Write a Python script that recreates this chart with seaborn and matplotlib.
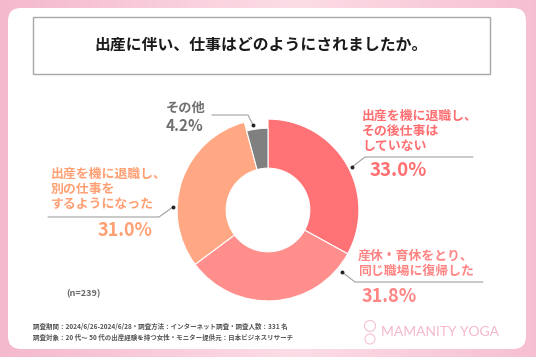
import numpy as np
import matplotlib
matplotlib.use("Agg")
import matplotlib.pyplot as plt
import seaborn as sns
from matplotlib.patches import FancyBboxPatch, Rectangle

sns.set_theme(style="white")
plt.rcParams['font.family'] = ['Noto Sans CJK JP', 'DejaVu Sans']

# ---- data ----
title = "出産に伴い、仕事はどのようにされましたか。"
categories = ["出産を機に退職し、\nその後仕事は\nしていない",
              "産休・育休をとり、\n同じ職場に復帰した",
              "出産を機に退職し、\n別の仕事を\nするようになった",
              "その他"]
values = [33.0, 31.8, 31.0, 4.2]
pct_labels = ["33.0%", "31.8%", "31.0%", "4.2%"]
slice_colors = ["#FF7276", "#FF8E8C", "#FFA883", "#808080"]
label_colors = ["#FF6E70", "#FF8484", "#FFA074", "#707070"]
n_note = "(n=239)"
foot1 = "調査期間：2024/6/26-2024/6/28・調査方法：インターネット調査・調査人数：331 名"
foot2 = "調査対象：20 代～ 50 代の出産経験を持つ女性・モニター提供元：日本ビジネスリサーチ"
brand = "MAMANITY YOGA"

W, H = 536, 357
fig = plt.figure(figsize=(W / 100, H / 100), dpi=100)

# background axes in pixel coordinates
bg = fig.add_axes([0, 0, 1, 1])
bg.set_xlim(0, W)
bg.set_ylim(H, 0)
bg.axis("off")

# pink gradient frame
xs = np.linspace(0, 1, 200)
grad = 1 - np.abs(xs - 0.55) * 1.6
grad = np.clip(grad, 0, 1)
c1 = np.array([0xF4, 0xB4, 0xCA]) / 255
c2 = np.array([0xFC, 0xDD, 0xE6]) / 255
img = c1[None, None, :] * (1 - grad[None, :, None]) + c2[None, None, :] * grad[None, :, None]
img = np.repeat(img, 2, axis=0)
bg.imshow(img, extent=[0, W, H, 0], aspect="auto", zorder=0)

card = FancyBboxPatch((8, 8), 518, 341, boxstyle="round,pad=0,rounding_size=13",
                      facecolor="white", edgecolor="none", zorder=1)
bg.add_patch(card)
tbox = Rectangle((33, 17), 457, 57, facecolor="white", edgecolor="#A8A8A8", lw=1.0, zorder=2)
bg.add_patch(tbox)
bg.text(261, 45, title, ha="center", va="center", fontsize=11.4, fontweight="bold",
        color="#1A1A1A", zorder=3)

# ---- donut ----
cx, cy, R = 268, 210, 100
pax = fig.add_axes([(cx - R) / W, (H - cy - R) / H, 2 * R / W, 2 * R / H])
wedges, _ = pax.pie(values, colors=slice_colors, startangle=90, counterclock=False,
                    radius=1.0, wedgeprops=dict(width=0.54, edgecolor="white", linewidth=0.8))
wedges[3].set_radius(0.9)
wedges[3].set_width(0.44)
pax.set_xlim(-1.1, 1.1)
pax.set_ylim(-1.1, 1.1)
pax.set_aspect("equal")
pax.axis("off")

# ---- labels and leader lines (pixel coords) ----
lc = "#A0A0A0"
fs_lab = 9.3
# red
bg.text(362, 131, categories[0], ha="left", va="center", fontsize=fs_lab, fontweight="bold",
        color=label_colors[0], linespacing=1.1, zorder=3)
bg.plot([352, 365, 473], [167, 157, 157], color=lc, lw=0.8, zorder=3)
bg.plot([352], [167], "o", color="#222222", ms=1.8, zorder=4)
bg.text(370, 171, pct_labels[0], ha="left", va="center", fontsize=13.5, fontweight="bold",
        color=label_colors[0], zorder=3)
# pink
bg.text(358, 263, categories[1], ha="left", va="center", fontsize=fs_lab, fontweight="bold",
        color=label_colors[1], linespacing=1.1, zorder=3)
bg.plot([342, 355, 483], [272, 282, 282], color=lc, lw=0.8, zorder=3)
bg.plot([342], [272], "o", color="#222222", ms=1.8, zorder=4)
bg.text(362, 296, pct_labels[1], ha="left", va="center", fontsize=13, fontweight="bold",
        color=label_colors[1], zorder=3)
# orange
bg.text(51, 189, categories[2], ha="left", va="center", fontsize=fs_lab, fontweight="bold",
        color=label_colors[2], linespacing=1.1, zorder=3)
bg.plot([48, 159, 173], [217, 217, 207], color=lc, lw=0.8, zorder=3)
bg.plot([173], [207], "o", color="#222222", ms=1.8, zorder=4)
bg.text(153, 231, pct_labels[2], ha="right", va="center", fontsize=13, fontweight="bold",
        color=label_colors[2], zorder=3)
# gray
bg.text(186, 108, categories[3], ha="center", va="center", fontsize=9.5, fontweight="bold",
        color=label_colors[3], zorder=3)
bg.text(185, 126, pct_labels[3], ha="center", va="center", fontsize=11, fontweight="bold",
        color=label_colors[3], zorder=3)
bg.plot([212, 248, 253], [115, 115, 125], color=lc, lw=0.8, zorder=3)
bg.plot([253], [125], "o", color="#222222", ms=1.8, zorder=4)

# notes
bg.text(83, 294, n_note, ha="center", va="center", fontsize=6.5, fontweight="bold",
        color="#666666", zorder=3)
bg.text(33, 326, foot1, ha="left", va="center", fontsize=4.7, fontweight="bold",
        color="#555555", zorder=3)
bg.text(33, 337, foot2, ha="left", va="center", fontsize=4.7, fontweight="bold",
        color="#555555", zorder=3)
bg.text(381, 332, brand, ha="left", va="center", fontsize=10, family=["Lato", "DejaVu Sans"],
        color="#F5B7CB", zorder=3)
# simple logo figure
bg.add_patch(plt.Circle((370, 326), 5.5, fill=False, ec="#F5C2D3", lw=0.8, zorder=3))
bg.add_patch(plt.Circle((370, 339), 5, fill=False, ec="#F5C2D3", lw=0.8, zorder=3))

fig.savefig("out.png", dpi=100)
